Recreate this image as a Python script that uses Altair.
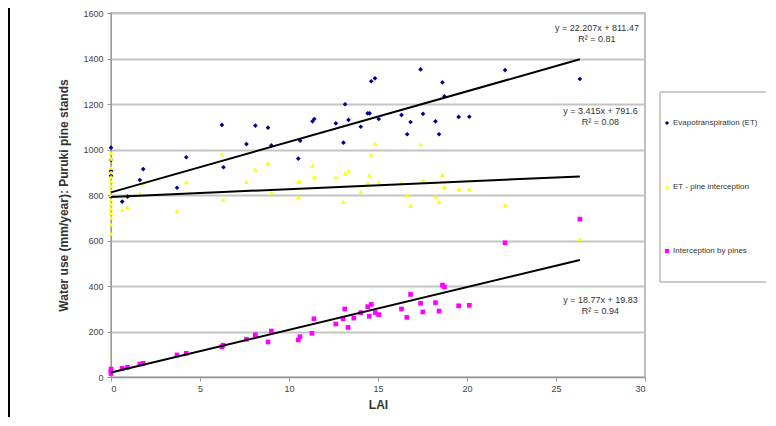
import altair as alt
import pandas as pd

# ---- data ----
et_lai = [0, 0, 0, 0, 0, 0.63, 0.93, 1.62, 1.81, 3.71, 4.23, 6.23, 6.32, 7.61, 8.11, 8.82, 9.01,
          10.52, 10.63, 11.32, 11.42, 12.63, 13.06, 13.15, 13.34, 14.03, 14.42, 14.53, 14.62, 14.83,
          15.04, 16.32, 16.64, 16.83, 17.39, 17.53, 18.23, 18.43, 18.62, 18.73, 19.53, 20.13, 22.14, 26.34]
et_val = [1008, 954, 905, 885, 792, 771, 793, 866, 914, 832, 966, 1108, 922, 1024, 1105, 1096, 1018,
          960, 1039, 1124, 1134, 1115, 1030, 1199, 1130, 1100, 1159, 1159, 1300, 1313,
          1134, 1152, 1067, 1121, 1352, 1157, 1124, 1067, 1295, 1234, 1143, 1144, 1349, 1310]

etp_lai = [0] * 16 + [0.63, 0.93, 1.62, 1.81, 3.71, 4.23, 6.23, 6.32, 7.61, 8.11, 8.82, 9.01,
          10.52, 10.52, 10.63, 11.32, 11.43, 12.63, 13.04, 13.15, 13.34, 14.03, 14.44, 14.51, 14.62, 14.83,
          15.04, 16.32, 16.64, 16.83, 17.39, 17.53, 18.23, 18.43, 18.62, 18.73, 19.53, 20.13, 22.14, 26.34]
etp_val = [985, 960, 920, 900, 880, 860, 840, 820, 800, 780, 760, 740, 720, 700, 670, 630,
          734, 746, 807, 847, 731, 856, 979, 778, 857, 913, 941, 810,
          858, 790, 858, 929, 878, 878, 769, 895, 907, 813, 850, 888, 977, 1026,
          856, 854, 800, 753, 1023, 866, 793, 771, 889, 835, 825, 825, 756, 607]

int_lai = [0, 0, 0, 0.63, 0.93, 1.62, 1.81, 3.71, 4.23, 6.23, 6.3, 7.61, 8.11, 8.82, 9.01,
           10.52, 10.61, 11.29, 11.4, 12.63, 13.04, 13.13, 13.32, 13.64, 14.03, 14.42, 14.51, 14.62, 14.85,
           15.04, 16.32, 16.62, 16.83, 17.39, 17.52, 18.23, 18.43, 18.62, 18.73, 19.53, 20.13, 22.14, 26.34]
int_val = [15, 25, 35, 38, 43, 57, 60, 97, 104, 133, 140, 166, 186, 154, 202,
           163, 177, 192, 256, 233, 256, 299, 218, 259, 283, 309, 267, 319, 283,
           274, 299, 262, 363, 324, 286, 327, 290, 404, 396, 313, 315, 590, 694]

series_names = ["Evapotranspiration (ET)", "ET - pine interception", "Interception by pines"]
series_colors = ["#000099", "#FFFF00", "#FF00FF"]
series_shapes = ["diamond", "triangle-up", "square"]

# trend-line coefficients (slope, intercept) and labels
slopes = [22.207, 3.415, 18.77]
intercepts = [811.47, 791.6, 19.83]
eq_text = ["y = 22.207x + 811.47", "y = 3.415x + 791.6", "y = 18.77x + 19.83"]
r2_text = ["R² = 0.81", "R² = 0.08", "R² = 0.94"]

x_ticks = [0, 5, 10, 15, 20, 25, 30]
y_ticks = [0, 200, 400, 600, 800, 1000, 1200, 1400, 1600]

# ---- tables ----
rows = []
for name, xs, ys in zip(series_names, [et_lai, etp_lai, int_lai], [et_val, etp_val, int_val]):
    for a, b in zip(xs, ys):
        rows.append({"LAI": a, "val": b, "series": name})
pts = pd.DataFrame(rows)

x_max = max(et_lai)
trend_rows = []
for i, (m, c) in enumerate(zip(slopes, intercepts)):
    trend_rows.append({"LAI": 0, "val": c, "id": i})
    trend_rows.append({"LAI": x_max, "val": m * x_max + c, "id": i})
trend = pd.DataFrame(trend_rows)

# label anchor positions (data coordinates)
lab_x = [27.3, 27.5, 27.5]
lab_y = [1535, 1170, 340]
labels = pd.DataFrame({
    "LAI": lab_x + lab_x,
    "val": lab_y + [v - 48 for v in lab_y],
    "txt": eq_text + r2_text,
})

X = alt.X("LAI:Q", scale=alt.Scale(domain=[0, 30], nice=False),
          axis=alt.Axis(values=x_ticks, grid=False, title="LAI", titleFontSize=12,
                        titleFontWeight="bold", titleColor="#333333", titlePadding=6,
                        labelFontSize=9, labelColor="#444444", tickColor="#999999",
                        domainColor="#999999", tickSize=4, labelPadding=3))
Y = alt.Y("val:Q", scale=alt.Scale(domain=[0, 1600], nice=False),
          axis=alt.Axis(values=y_ticks, format="d", grid=True, gridColor="#c4c4c4", gridWidth=2,
                        title="Water use (mm/year): Puruki pine stands", titleFontSize=12,
                        titleFontWeight="bold", titleColor="#333333", titlePadding=12,
                        labelFontSize=9, labelColor="#444444", tickColor="#999999",
                        domainColor="#999999", tickSize=4, labelPadding=4))

points = alt.Chart(pts).mark_point(filled=True, opacity=1, size=22).encode(
    x=X, y=Y,
    color=alt.Color("series:N",
                    scale=alt.Scale(domain=series_names, range=series_colors),
                    legend=alt.Legend(title=None, orient="none", legendX=552, legendY=106,
                                      rowPadding=56, labelFontSize=8, labelColor="#333333",
                                      symbolSize=18, labelOffset=2, padding=0)),
    shape=alt.Shape("series:N", scale=alt.Scale(domain=series_names, range=series_shapes),
                    legend=None),
)

lines = alt.Chart(trend).mark_line(color="black", strokeWidth=2).encode(
    x="LAI:Q", y="val:Q", detail="id:N")

texts = alt.Chart(labels).mark_text(fontSize=9, color="#333333", font="Liberation Sans",
                                    align="center", baseline="middle").encode(
    x="LAI:Q", y="val:Q", text="txt:N")

legend_box = alt.Chart(pd.DataFrame({"k": [0]})).mark_rect(
    fill=None, stroke="#999999", strokeWidth=1).encode(
    x=alt.value(549), x2=alt.value(656), y=alt.value(79), y2=alt.value(269))

outer = alt.Chart(pd.DataFrame({"k": [0]})).mark_rule(color="black", strokeWidth=2).encode(
    x=alt.value(-102), y=alt.value(-20), y2=alt.value(420))

chart = alt.layer(points, lines, texts, legend_box, outer).properties(
    width=534, height=364,
    autosize=alt.AutoSizeParams(type="none"),
    padding={"left": 103, "top": 5, "right": 121, "bottom": 40},
).configure(font="Liberation Sans").configure_view(
    stroke="#aaaaaa", strokeWidth=1.5
)

chart.save("out.html", embed_options={"renderer": "svg", "actions": False})
